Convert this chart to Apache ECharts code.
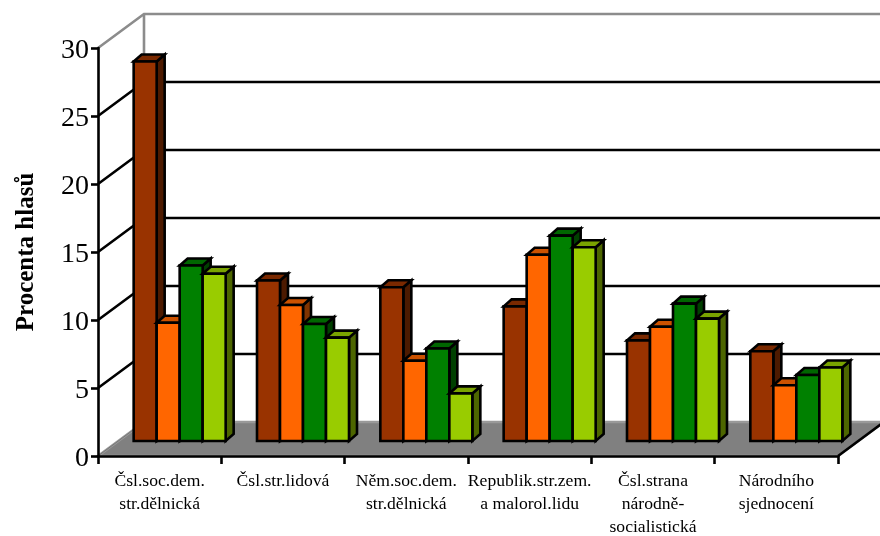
<!DOCTYPE html>
<html><head><meta charset="utf-8">
<style>html,body{margin:0;padding:0;background:#fff}#c{width:880px;height:536px}</style>
<script src="https://cdn.jsdelivr.net/npm/echarts@6/dist/echarts.min.js"></script>
</head><body><div id="c"></div>
<script>
const categories = ["Čsl.soc.dem.\nstr.dělnická","Čsl.str.lidová","Něm.soc.dem.\nstr.dělnická","Republik.str.zem.\na malorol.lidu","Čsl.strana\nnárodně-\nsocialistická","Národního\nsjednocení"];
const seriesA = [27.9,11.8,11.3,9.9,7.4,6.6];
const seriesB = [8.7,10.0,5.9,13.7,8.4,4.1];
const seriesC = [12.9,8.6,6.8,15.1,10.1,4.85];
const seriesD = [12.3,7.6,3.5,14.25,9.0,5.4];
const gridValues = [5,10,15,20,25];
const front = ["#993300","#FF6600","#008000","#99CC00"];
const top_ = ["#7A2900","#CC5200","#006600","#7AA300"];
const side = ["#4D1A00","#803300","#004000","#4D6600"];
const BACK = [46,-34], BASE = [20.5,-15], DEPTH = [8,-7], BW = 23, LW = 2.6;

function wall(params, api){
  const v = api.value(0);
  const a = api.coord([0,v]);
  const halfCell = api.size([1,0])[0]/2;
  const x0 = a[0]-halfCell, y0 = a[1];
  const x1 = x0 + halfCell*12;
  const col = v===30 ? "#8C8C8C" : "#000";
  return {type:"polyline",shape:{points:[[x0,y0],[x0+BACK[0],y0+BACK[1]],[x1+BACK[0],y0+BACK[1]]]},style:{fill:null,stroke:col,lineWidth:LW}};
}
function floorItem(params, api){
  const a = api.coord([0,0]);
  const halfCell = api.size([1,0])[0]/2;
  const x0 = a[0]-halfCell, y0 = a[1];
  const x1 = x0 + halfCell*12;
  return {type:"group",children:[
    {type:"polygon",shape:{points:[[x0,y0],[x0+BACK[0],y0+BACK[1]],[x1+BACK[0],y0+BACK[1]],[x1,y0]]},style:{fill:"#808080",stroke:"#999",lineWidth:LW}},
    {type:"line",shape:{x1:x1,y1:y0,x2:x1+BACK[0],y2:y0+BACK[1]},style:{stroke:"#000",lineWidth:LW}},
    {type:"line",shape:{x1:x0,y1:y0,x2:x0+BACK[0],y2:y0+BACK[1]},style:{stroke:"#777",lineWidth:1}}
  ]};
}
function edge(params, api){
  const t = api.coord([0,30]), b = api.coord([0,0]);
  const x = t[0]-api.size([1,0])[0]/2+BACK[0];
  return {type:"line",shape:{x1:x,y1:t[1]+BACK[1],x2:x,y2:b[1]+BACK[1]},style:{stroke:"#8C8C8C",lineWidth:LW}};
}
function bar(k){
  return function(params, api){
    const c = api.value(0), v = api.value(1);
    const t = api.coord([c,v]), b = api.coord([c,0]);
    const xl = t[0] + BASE[0] - 2*BW - 0.5 + k*BW;
    const xr = xl + BW;
    const yt = t[1] + BASE[1], yb = b[1] + BASE[1];
    const s = {stroke:"#000",lineWidth:LW,lineJoin:"miter"};
    return {type:"group",children:[
      {type:"polygon",shape:{points:[[xr,yt],[xr+DEPTH[0],yt+DEPTH[1]],[xr+DEPTH[0],yb+DEPTH[1]],[xr,yb]]},style:Object.assign({fill:side[k]},s)},
      {type:"polygon",shape:{points:[[xl,yt],[xl+DEPTH[0],yt+DEPTH[1]],[xr+DEPTH[0],yt+DEPTH[1]],[xr,yt]]},style:Object.assign({fill:top_[k]},s)},
      {type:"rect",shape:{x:xl,y:yt,width:BW,height:yb-yt},style:Object.assign({fill:front[k]},s)}
    ]};
  };
}
const fam = '"Liberation Serif","Times New Roman",serif';
const chart = echarts.init(document.getElementById("c"),null,{renderer:"canvas"});
const barSeries = [seriesA,seriesB,seriesC,seriesD].map((vals,k)=>({
  type:"custom",renderItem:bar(k),clip:false,z:5,silent:true,
  encode:{x:0,y:1},data:vals.map((v,i)=>[i,v])
}));
chart.setOption({
  animation:false,
  backgroundColor:"#fff",
  grid:{left:98,right:42,top:48,height:408,outerBoundsMode:"none",containLabel:false},
  xAxis:{type:"category",data:categories,boundaryGap:true,
    axisLine:{show:true,lineStyle:{color:"#000",width:LW}},
    axisTick:{show:true,alignWithLabel:false,length:8,lineStyle:{color:"#000",width:LW}},
    axisLabel:{interval:0,margin:14,fontFamily:fam,fontSize:17.6,color:"#000",lineHeight:23,align:"center",verticalAlign:"top"},
    z:6
  },
  yAxis:{type:"value",min:0,max:30,interval:5,
    name:"Procenta hlasů",nameLocation:"middle",nameGap:59,nameRotate:90,
    nameTextStyle:{fontFamily:fam,fontSize:25,fontWeight:"bold",color:"#000"},
    axisLine:{show:true,onZero:false,lineStyle:{color:"#000",width:LW}},
    axisTick:{show:true,length:7,lineStyle:{color:"#000",width:LW}},
    axisLabel:{margin:9,verticalAlign:"top",lineHeight:5,fontFamily:fam,fontSize:28,color:"#000"},
    splitLine:{show:false},z:6
  },
  series:[
    {type:"custom",renderItem:floorItem,clip:false,z:1,silent:true,encode:{y:0},data:[[0]]},
    {type:"custom",renderItem:edge,clip:false,z:1,silent:true,encode:{y:0},data:[[0]]},
    {type:"custom",renderItem:wall,clip:false,z:2,silent:true,encode:{y:0},data:gridValues.concat([30]).map(v=>[v])}
  ].concat(barSeries)
});
</script></body></html>
